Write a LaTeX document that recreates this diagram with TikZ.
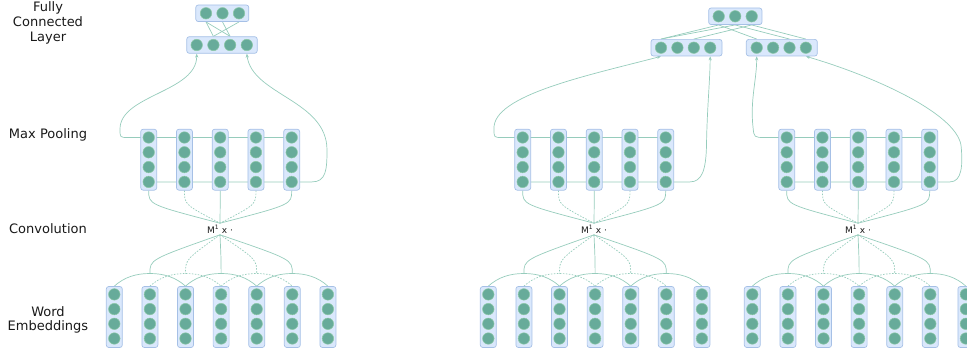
\documentclass[tikz,border=0pt]{standalone}
\usepackage{fontspec}
\setmainfont{DejaVu Sans}
\usetikzlibrary{arrows.meta,calc,backgrounds}

\definecolor{boxfill}{RGB}{218,232,252}
\definecolor{boxline}{RGB}{166,192,230}
\definecolor{unitfill}{RGB}{103,171,154}
\definecolor{unitline}{RGB}{140,200,165}
\definecolor{linkcol}{RGB}{150,204,188}
\definecolor{labelcol}{RGB}{25,25,25}

\tikzset{
  vecbox/.style={draw=boxline, fill=boxfill, rounded corners=2.5pt, line width=0.7pt, inner sep=0pt},
  colbox/.style={vecbox, minimum width=16pt, minimum height=61pt},
  rowbox/.style={vecbox, minimum height=16.6pt},
  unit/.style={circle, fill=unitfill, draw=unitline, line width=0.5pt, minimum size=11.5pt, inner sep=0pt},
  link/.style={draw=linkcol, line width=0.7pt},
  dlink/.style={link, dash pattern=on 1.6pt off 1.4pt},
  arr/.style={link, -{Stealth[length=4pt,width=3.2pt]}},
  layername/.style={font=\fontsize{13}{14.7}\selectfont, text=labelcol, align=center},
  convop/.style={font=\fontsize{9}{10}\selectfont, text=labelcol, inner sep=1.5pt}
}

\begin{document}
\begin{tikzpicture}[x=1pt, y=-1pt]
  \useasboundingbox (0,0) rectangle (967,353);
  \clip (0,0) rectangle (967,353);

  % layer names
  \node[layername] (name-fc) at (48,23) {Fully\\Connected\\Layer};
  \node[layername] (name-pool) at (48,135) {Max Pooling};
  \node[layername] (name-conv) at (48,229) {Convolution};
  \node[layername] (name-emb) at (48,320) {Word\\Embeddings};

  % word embeddings, convolution and pooling for each sentence
  \foreach \o/\s in {0/a, 374/b, 638/c}{
    \foreach \k in {1,...,7}{
      \node[colbox] (emb-\s-\k) at ({\o+114.3+(\k-1)*35.6},317) {};
      \foreach \j in {1,...,4}
        \node[unit] (emb-\s-\k-\j) at ({\o+114.3+(\k-1)*35.6},{294.4+(\j-1)*14.7}) {};
    }
    \foreach \k in {2,...,6}
      \coordinate (peak-\s-\k) at ({\o+114.3+(\k-1)*35.6},273.5);
    \foreach \k in {1,...,5}{
      \node[colbox] (pool-\s-\k) at ({\o+148.7+(\k-1)*35.75},159.7) {};
      \foreach \j in {1,...,4}
        \node[unit] (pool-\s-\k-\j) at ({\o+148.7+(\k-1)*35.75},{137.5+(\j-1)*14.8}) {};
    }
    \node[convop] (conv-\s) at (\o+220,229) {M\textsuperscript{1} x ·};
  }

  % fully connected layer
  \node[rowbox, minimum width=70.5pt] (hid-a) at (222,45) {};
  \node[rowbox, minimum width=53pt] (top-a) at (222.3,13.3) {};
  \node[rowbox, minimum width=71pt] (hid-b) at (686.5,47.7) {};
  \node[rowbox, minimum width=71pt] (hid-c) at (781.8,47.7) {};
  \node[rowbox, minimum width=53.3pt] (top-b) at (735.3,16.3) {};
  \foreach \j in {1,...,4}{
    \node[unit] (hid-a-\j) at ({196.7+(\j-1)*16.7},45) {};
    \node[unit] (hid-b-\j) at ({661+(\j-1)*16.4},47.7) {};
    \node[unit] (hid-c-\j) at ({756.7+(\j-1)*16.4},47.7) {};
  }
  \foreach \j in {1,...,3}{
    \node[unit] (top-a-\j) at ({206+(\j-1)*16.5},13.3) {};
    \node[unit] (top-b-\j) at ({718.7+(\j-1)*16.5},16.3) {};
  }

  \begin{scope}[on background layer]
    \foreach \s in {a,b,c}{
      % filters over the embeddings
      \foreach \k/\km/\kp/\ls in {2/1/3/link, 3/2/4/dlink, 4/3/5/link, 5/4/6/dlink, 6/5/7/link}{
        \draw[\ls] (emb-\s-\km.north) .. controls +(10,-9) and +(-14,0) .. (peak-\s-\k)
          .. controls +(14,0) and +(-10,-9) .. (emb-\s-\kp.north);
        \draw[\ls] (conv-\s.south) .. controls ($(peak-\s-\k)+(0,-14)$) .. (peak-\s-\k);
      }
      % convolution outputs
      \foreach \k/\ls in {1/link, 2/dlink, 3/link, 4/dlink, 5/link}
        \draw[\ls] (pool-\s-\k.south) .. controls +(0,14) .. (conv-\s.north);
    }

    % max pooling
    \draw[arr] (pool-a-5-1.center) -- (pool-a-1-1.center) -- (128,137.5)
      .. controls (120,137.5) .. (120,129) .. controls (120,95) and (197,92) .. (hid-a-1 |- hid-a.south);
    \draw[arr] (pool-a-1-4.center) -- (312,181.9) .. controls (326,181.9) and (327,170) .. (327,150)
      .. controls (327,100) and (252,95) .. (hid-a-4 |- hid-a.south);
    \draw[arr] (pool-b-5-1.center) -- (pool-b-1-1.center) -- (502,137.5)
      .. controls (494,137.5) .. (494,129) .. controls (492,95) and (590,75) .. (hid-b-1 |- hid-b.south);
    \draw[arr] (pool-b-1-4.center) -- (690,181.9) .. controls (702,181.9) and (706,170) .. (706.5,145)
      .. controls (707,110) and (710,80) .. (hid-b-4 |- hid-b.south);
    \draw[arr] (pool-c-5-1.center) -- (pool-c-1-1.center) -- (765,137.5)
      .. controls (754,137.5) .. (753,127) .. controls (750,100) and (756.7,80) .. (hid-c-1 |- hid-c.south);
    \draw[arr] (pool-c-1-4.center) -- (950,181.9) .. controls (962,181.9) and (963,165) .. (961,145)
      .. controls (955,112) and (870,75) .. (hid-c-4 |- hid-c.south);

    % fully connected
    \draw[link] (top-a-1 |- top-a.south) -- (hid-a-2 |- hid-a.north);
    \draw[link] (top-a-1 |- top-a.south) -- (hid-a-3 |- hid-a.north);
    \draw[link] (top-a-3 |- top-a.south) -- (hid-a-2 |- hid-a.north);
    \draw[link] (top-a-2 |- top-a.south) -- (hid-a-3 |- hid-a.north);
    \draw[link] (top-b-1 |- top-b.south) -- (hid-b-1 |- hid-b.north);
    \draw[link] (top-b-2 |- top-b.south) -- (hid-b-1 |- hid-b.north);
    \draw[link] (top-b-3 |- top-b.south) -- (hid-b-3 |- hid-b.north);
    \draw[link] (top-b-1 |- top-b.south) -- (hid-c-1 |- hid-c.north);
    \draw[link] (top-b-2 |- top-b.south) -- (hid-c-3 |- hid-c.north);
    \draw[link] (top-b-3 |- top-b.south) -- (hid-c-4 |- hid-c.north);
  \end{scope}
\end{tikzpicture}
\end{document}
